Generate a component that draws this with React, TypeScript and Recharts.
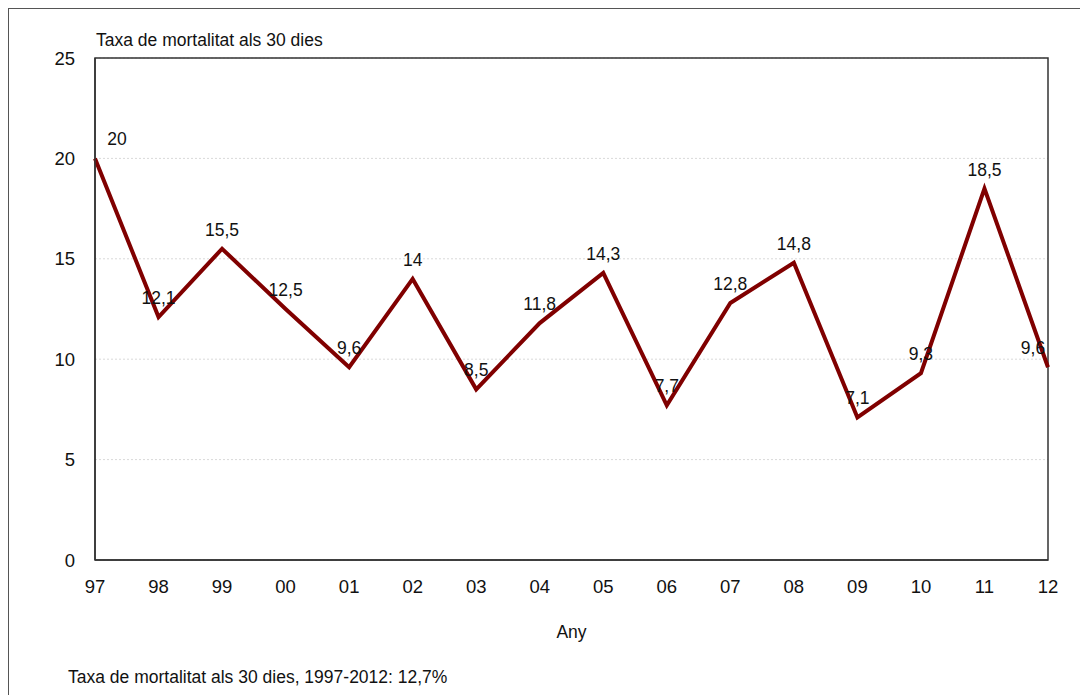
import React from 'react';
import {
  LineChart,
  Line,
  XAxis,
  YAxis,
  CartesianGrid,
  ReferenceArea,
} from 'recharts';

// dades llegides del gràfic
const years = ['97', '98', '99', '00', '01', '02', '03', '04', '05', '06', '07', '08', '09', '10', '11', '12'];
const mortality = [20, 12.1, 15.5, 12.5, 9.6, 14, 8.5, 11.8, 14.3, 7.7, 12.8, 14.8, 7.1, 9.3, 18.5, 9.6];
const yTicks = [0, 5, 10, 15, 20, 25];

const data = years.map((y, i) => ({ year: y, value: mortality[i] }));

const FONT = '"Liberation Sans", Arial, sans-serif';

const fmt = (v: number) => String(v).replace('.', ',');

const PointLabel = (props: any) => {
  const { x, y, value, index } = props;
  let dx = 0;
  if (index === 0) dx = 22;
  if (index === years.length - 1) dx = -15;
  return (
    <text
      x={x + dx}
      y={y - 13}
      textAnchor='middle'
      fontSize={17.5}
      fontFamily={FONT}
      fill='#111'
    >
      {fmt(value)}
    </text>
  );
};

export default function App() {
  return (
    <div
      style={{
        position: 'relative',
        width: 1080,
        height: 687,
        borderLeft: '1px solid #555',
        borderTop: '1px solid #555',
        boxSizing: 'border-box',
        fontFamily: FONT,
        background: '#fff',
      }}
    >
      <div
        style={{
          position: 'absolute',
          left: 87,
          top: 21,
          fontSize: 17.5,
          color: '#111',
          whiteSpace: 'nowrap',
        }}
      >
        Taxa de mortalitat als 30 dies
      </div>
      <LineChart
        width={1080}
        height={687}
        data={data}
        margin={{ top: 50, right: 40, left: 37, bottom: 55 }}
        style={{ position: 'absolute', left: -1, top: -1 }}
      >
        <CartesianGrid
          vertical={false}
          stroke='#d9d9d9'
          strokeDasharray='2 2'
        />
        <XAxis
          dataKey='year'
          scale='point'
          padding={{ left: 0, right: 0 }}
          tickLine={false}
          axisLine={{ stroke: '#333', strokeWidth: 1.5 }}
          tick={{ fontSize: 18.5, fill: '#111', fontFamily: FONT }}
          tickMargin={14}
          height={80}
          interval={0}
          label={{
            value: 'Any',
            position: 'insideBottom',
            offset: 2,
            fontSize: 17.5,
            fill: '#111',
            fontFamily: FONT,
          }}
        />
        <YAxis
          domain={[0, 25]}
          ticks={yTicks}
          width={50}
          tickLine={false}
          axisLine={{ stroke: '#333', strokeWidth: 1.5 }}
          tick={{ fontSize: 18.5, fill: '#111', fontFamily: FONT }}
          tickMargin={14}
        />
        <ReferenceArea
          x1='97'
          x2='12'
          y1={0}
          y2={25}
          fill='none'
          stroke='#333'
          strokeWidth={1.5}
        />
        <Line
          type='linear'
          dataKey='value'
          stroke='#800000'
          strokeWidth={4}
          dot={false}
          activeDot={false}
          label={<PointLabel />}
          isAnimationActive={false}
        />
      </LineChart>
      <div
        style={{
          position: 'absolute',
          left: 59,
          top: 658,
          fontSize: 17.5,
          color: '#111',
          whiteSpace: 'nowrap',
        }}
      >
        Taxa de mortalitat als 30 dies, 1997-2012: 12,7%
      </div>
    </div>
  );
}
